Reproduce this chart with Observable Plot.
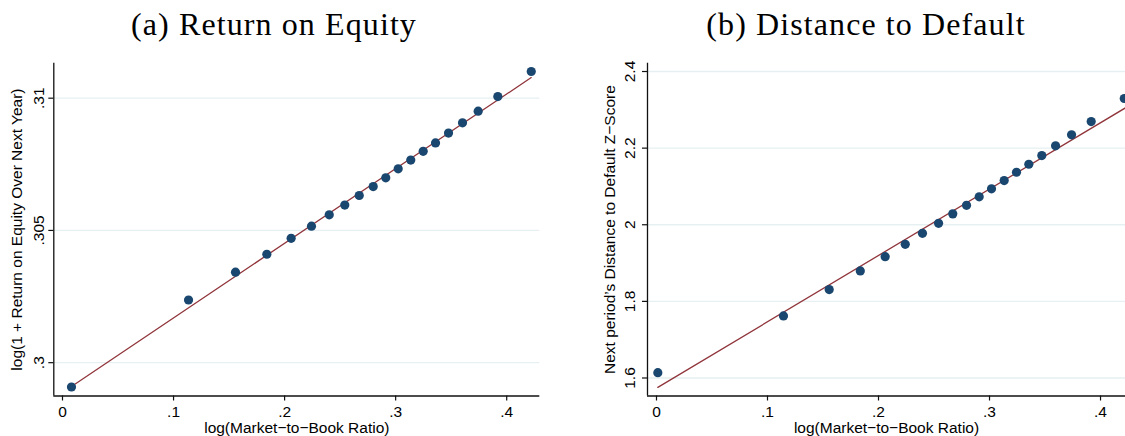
<!DOCTYPE html>
<html>
<head>
<meta charset="utf-8">
<script src="https://cdn.jsdelivr.net/npm/d3@7"></script>
<script src="https://cdn.jsdelivr.net/npm/@observablehq/plot@0.6"></script>
<style>
  html, body { margin: 0; padding: 0; background: #fff; }
  #wrap { position: relative; width: 1125px; height: 436px; overflow: hidden; background: #fff; }
  .title { position: absolute; top: 8px; font-family: "Liberation Serif", "Times New Roman", serif; font-size: 32px; letter-spacing: 1.1px; color: #000; white-space: nowrap; transform: translateX(-50%); line-height: 1; }
  .panel { position: absolute; top: 0; }
</style>
</head>
<body>
<div id="wrap">
  <div class="title" id="t1" style="left:274px">(a) Return on Equity</div>
  <div class="title" id="t2" style="left:866px">(b) Distance to Default</div>
  <div class="panel" id="p1" style="left:0px"></div>
  <div class="panel" id="p2" style="left:580px"></div>
</div>
<script>
// ---------- data ----------
const xTicks = [0, 0.1, 0.2, 0.3, 0.4];
const xTickLabels = ["0", ".1", ".2", ".3", ".4"];
const xLabel = "log(Market\u2212to\u2212Book Ratio)";

// Panel (a) Return on Equity
const roeX = [0.0081, 0.1135, 0.1558, 0.1840, 0.2059, 0.2242, 0.2402, 0.2542, 0.2672, 0.2798,
              0.2911, 0.3023, 0.3136, 0.3248, 0.3359, 0.3476, 0.3602, 0.3743, 0.3920, 0.4221];
const roeY = [0.29908, 0.30237, 0.30342, 0.30410, 0.30470, 0.30516, 0.30559, 0.30596, 0.30632, 0.30666,
              0.30699, 0.30733, 0.30766, 0.30799, 0.30831, 0.30868, 0.30907, 0.30951, 0.31006, 0.31101];
const roeFitX = [0.0081, 0.4221];
const roeFitY = [0.29910, 0.31078];
const roeYTicks = [0.3, 0.305, 0.31];
const roeYTickLabels = [".3", ".305", ".31"];
const roeYLabel = "log(1 + Return on Equity Over Next Year)";

// Panel (b) Distance to Default
const ddX = [0.0012, 0.1144, 0.1556, 0.1836, 0.2060, 0.2241, 0.2396, 0.2541, 0.2669, 0.2793,
             0.2907, 0.3018, 0.3132, 0.3243, 0.3354, 0.3471, 0.3595, 0.3739, 0.3916, 0.4214];
const ddY = [1.6139, 1.7620, 1.8307, 1.8795, 1.9168, 1.9490, 1.9777, 2.0038, 2.0284, 2.0508,
             2.0728, 2.0937, 2.1153, 2.1370, 2.1579, 2.1806, 2.2060, 2.2347, 2.2694, 2.3295];
const ddFitX = [0.0012, 0.4225];
const ddFitY = [1.5755, 2.3052];
const ddYTicks = [1.6, 1.8, 2.0, 2.2, 2.4];
const ddYTickLabels = ["1.6", "1.8", "2", "2.2", "2.4"];
const ddYLabel = "Next period\u2019s Distance to Default Z\u2212Score";

// ---------- drawing ----------
const DOT = "#1a476f";
const FIT = "#90353b";
const GRID = "#e6eff1";
const FONT = "'Liberation Sans', Arial, Helvetica, sans-serif";

function panel({xs, ys, fx, fy, yTicks, yTickLabels, yLabel, width, mL, mR, xDomain, yDomain, yPad, yLabelOff}) {
  const pts = xs.map((x, i) => ({x, y: ys[i]}));
  const fit = fx.map((x, i) => ({x, y: fy[i]}));
  const xfmt = d => xTickLabels[xTicks.findIndex(t => Math.abs(t - d) < 1e-9)];
  const yfmt = d => yTickLabels[yTicks.findIndex(t => Math.abs(t - d) < 1e-9)];
  return Plot.plot({
    width, height: 436,
    marginLeft: mL, marginRight: mR, marginTop: 62.7, marginBottom: 40.5,
    style: {fontFamily: FONT, fontSize: "15.5px", color: "#000", background: "transparent", overflow: "visible"},
    x: {domain: xDomain},
    y: {domain: yDomain},
    marks: [
      Plot.gridY(yTicks, {stroke: GRID, strokeOpacity: 1, strokeWidth: 1.3}),
      Plot.line(fit, {x: "x", y: "y", stroke: FIT, strokeWidth: 1.3}),
      Plot.dot(pts, {x: "x", y: "y", r: 4.6, fill: DOT, stroke: null}),
      Plot.ruleY([yDomain[0]], {stroke: "#111", strokeWidth: 1.3}),
      Plot.ruleX([xDomain[0]], {stroke: "#111", strokeWidth: 1.3}),
      Plot.axisX(xTicks, {tickFormat: xfmt, tickSize: 5, tickPadding: 4.5, label: null, stroke: "#111", strokeWidth: 1.2}),
      Plot.axisY(yTicks, {tickFormat: yfmt, tickSize: 5, tickPadding: yPad, tickRotate: -90,
                          textAnchor: "middle", lineAnchor: "bottom", label: null, stroke: "#111", strokeWidth: 1.2}),
      Plot.text([xLabel], {frameAnchor: "bottom", dy: 36.5, lineAnchor: "bottom", text: d => d, fontSize: 15.5}),
      Plot.text([yLabel], {frameAnchor: "left", rotate: -90, dx: -yLabelOff, lineAnchor: "bottom", textAnchor: "middle", text: d => d, fontSize: 15.5})
    ]
  });
}

document.getElementById("p1").append(panel({
  xs: roeX, ys: roeY, fx: roeFitX, fy: roeFitY,
  yTicks: roeYTicks, yTickLabels: roeYTickLabels, yLabel: roeYLabel,
  width: 560, mL: 53.3, mR: 20.7,
  xDomain: [-0.00783, 0.4298], yDomain: [0.29874, 0.311323], yPad: 5, yLabelOff: 32
}));

document.getElementById("p2").append(panel({
  xs: ddX, ys: ddY, fx: ddFitX, fy: ddFitY,
  yTicks: ddYTicks, yTickLabels: ddYTickLabels, yLabel: ddYLabel,
  width: 545, mL: 67, mR: 0,
  xDomain: [-0.0081, 0.4225], yDomain: [1.553, 2.4217], yPad: 8, yLabelOff: 33
}));
</script>
</body>
</html>
